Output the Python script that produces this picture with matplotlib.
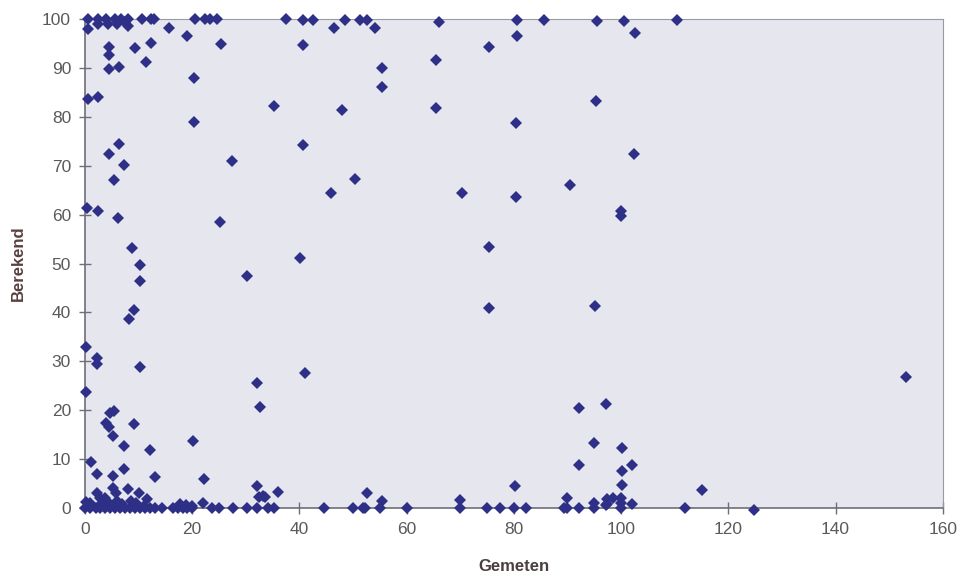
import matplotlib.pyplot as plt
from matplotlib import rcParams

rcParams["font.family"] = ["Liberation Sans", "DejaVu Sans"]

# measured (Gemeten) vs calculated (Berekend)
gemeten = [
    # top row, ~100
    0.5, 2.5, 4.0, 5.6, 6.8, 8.1, 10.6, 12.4, 12.9, 20.5, 22.4, 23.3, 24.6,
    37.5, 40.6, 42.5, 48.5, 51.3, 52.6, 66.1, 80.5, 85.6, 95.5, 100.5, 110.5,
    2.5, 4.3, 5.9, 7.5, 8.1, 0.5, 15.6, 19.0, 46.5, 54.1, 80.5, 102.6,
    # upper field
    4.4, 4.4, 4.4, 6.4, 9.3, 11.4, 12.4, 20.4, 25.4, 40.6, 75.4, 65.5,
    55.4, 55.4, 0.5, 2.5, 20.4, 35.3, 47.9, 65.5, 95.3, 80.4,
    6.3, 4.4, 7.3, 27.4, 40.6, 102.4, 5.4, 50.4, 45.9, 70.3, 80.4, 90.4,
    # middle
    0.3, 2.4, 6.2, 25.2, 99.9, 99.9, 8.7, 75.3, 40.2, 10.3, 10.3, 30.2,
    9.2, 8.2, 75.3, 95.1, 0.2, 2.2, 2.2, 10.3, 41.1, 32.1,
    # lower field
    0.2, 4.7, 5.4, 32.7, 92.1, 97.1, 3.9, 4.5, 5.3, 9.2, 20.2, 7.2, 94.9,
    12.1, 100.1, 1.1, 92.1, 102.1, 100.1, 2.2, 5.2, 7.2, 13.1, 22.2,
    32.1, 80.2, 100.1, 115.1, 153.1,
    2.2, 5.3, 5.8, 8.1, 10.0, 32.4, 33.3, 33.6, 36.1, 52.6,
    2.8, 3.7, 11.5, 22.1, 0.2, 55.4, 70.0, 89.9, 97.4, 98.5,
    4.5, 6.0, 8.5, 7.0, 3.0, 1.0, 9.5, 11.0, 17.7, 18.8, 20.0,
    94.9, 97.4, 100.0, 100.0, 102.1, 97.1,
    # bottom row, ~0
    0.0, 1.0, 2.0, 2.8, 3.7, 4.7, 5.6, 6.5, 7.5, 8.4, 9.3, 10.3, 11.2, 12.1,
    13.1, 14.4, 16.5, 17.4, 18.3, 19.0, 19.9, 23.7, 25.0, 27.7, 30.2, 32.0,
    34.2, 35.2, 44.6, 50.0, 51.8, 52.3, 55.1, 60.0, 70.0, 75.0, 77.5, 80.0,
    82.2, 89.3, 89.9, 92.1, 94.9, 100.0, 112.0, 124.8,
]
berekend = [
    # top row, ~100
    100, 100, 100, 100, 100, 100, 100, 100, 100, 100, 100, 100, 100,
    100, 99.8, 99.8, 99.8, 99.8, 99.8, 99.3, 99.7, 99.7, 99.5, 99.5, 99.7,
    99.0, 99.0, 99.0, 99.3, 98.6, 97.9, 98.1, 96.6, 98.1, 98.2, 96.5, 97.2,
    # upper field
    94.2, 92.6, 89.8, 90.1, 94.0, 91.3, 95.0, 88.0, 94.8, 94.7, 94.3, 91.6,
    90.0, 86.0, 83.6, 84.0, 79.0, 82.3, 81.4, 81.9, 83.2, 78.7,
    74.4, 72.4, 70.1, 71.0, 74.2, 72.4, 67.1, 67.2, 64.4, 64.4, 63.5, 66.1,
    # middle
    61.4, 60.7, 59.4, 58.4, 60.8, 59.7, 53.2, 53.4, 51.1, 49.6, 46.4, 47.4,
    40.5, 38.7, 40.8, 41.3, 33.0, 30.6, 29.4, 28.8, 27.7, 25.6,
    # lower field
    23.8, 19.4, 19.8, 20.7, 20.5, 21.3, 17.4, 16.6, 14.7, 17.1, 13.8, 12.7,
    13.2, 11.8, 12.3, 9.5, 8.7, 8.8, 7.6, 6.9, 6.6, 8.0, 6.3, 5.9,
    4.5, 4.6, 4.7, 3.7, 26.7,
    3.1, 4.0, 3.0, 3.8, 3.0, 2.3, 2.5, 2.3, 3.3, 3.1,
    2.0, 2.0, 1.8, 1.0, 1.2, 1.4, 1.6, 2.0, 1.8, 2.0,
    1.0, 1.5, 1.5, 0.8, 0.8, 1.0, 1.0, 0.5, 0.8, 0.6, 0.5,
    1.0, 0.8, 2.0, 1.0, 0.8, 0.6,
    # bottom row, ~0
    0, 0, 0, 0, 0, 0, 0, 0, 0, 0, 0, 0, 0, 0,
    0, 0, 0, 0, 0, 0, 0, 0, 0, 0, 0, 0,
    0, 0, 0, 0, 0, 0, 0, 0, 0, 0, 0, 0,
    0, 0, 0, 0, 0, 0, 0, -0.4,
]

fig = plt.figure(figsize=(9.6, 5.79), dpi=100)
ax = fig.add_axes([0.0885, 0.1226, 0.8935, 0.8446])
ax.set_facecolor("#e6e6ee")

ax.plot(gemeten, berekend, "D", color="#2e3088", markersize=6.5,
        markeredgewidth=0, clip_on=False, zorder=3)

ax.set_xlim(0, 160)
ax.set_ylim(0, 100)
ax.set_xticks(range(0, 161, 20))
ax.set_yticks(range(0, 101, 10))

for side in ["left", "bottom"]:
    ax.spines[side].set_color("#6e6e78")
    ax.spines[side].set_linewidth(1.2)
for side in ["top", "right"]:
    ax.spines[side].set_color("#9a9aa4")
    ax.spines[side].set_linewidth(0.8)

ax.tick_params(direction="inout", length=8, width=1, colors="#6e6e78",
               labelcolor="#5a5a5a", labelsize=12.5, pad=6)

ax.set_xlabel("Gemeten", fontsize=12, fontweight="bold", color="#4a4040",
              labelpad=16)
ax.set_ylabel("Berekend", fontsize=12, fontweight="bold", color="#5a4040",
              labelpad=12)

fig.savefig("out.png", dpi=100)
